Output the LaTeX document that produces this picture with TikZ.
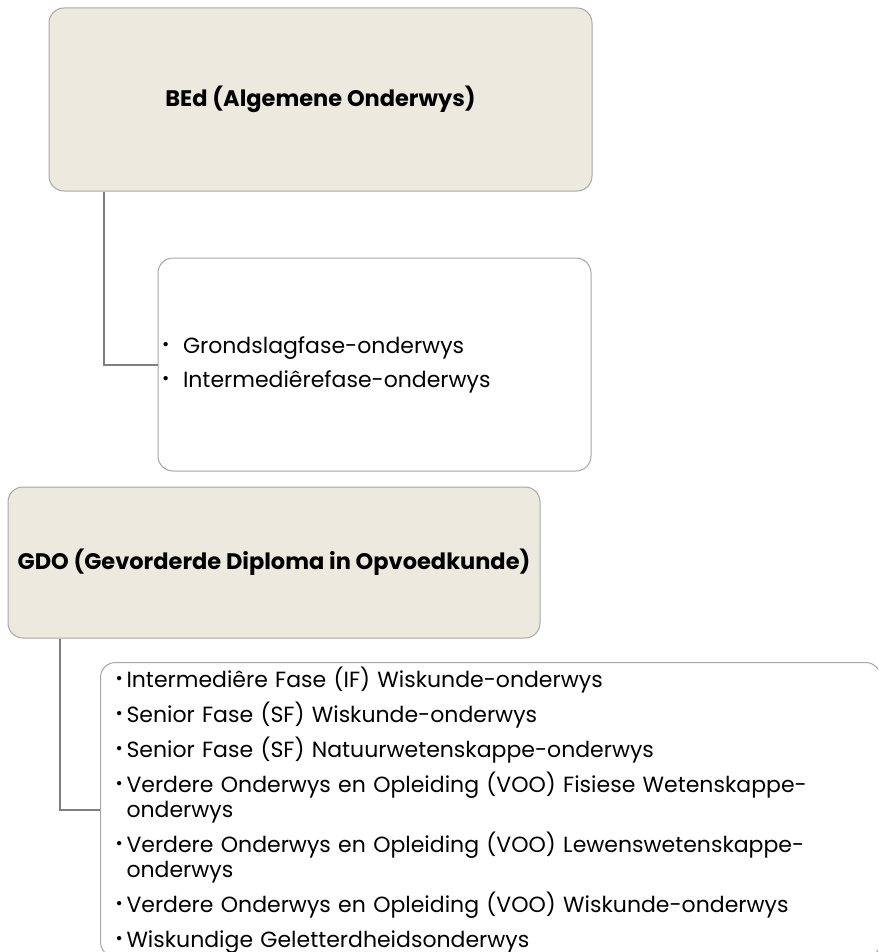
\documentclass[tikz,border=0pt]{standalone}
\usepackage{fontspec}
\setmainfont{Poppins}
\usepackage{xcolor}
\definecolor{boxfill}{HTML}{ECE9DF}
\definecolor{boxline}{HTML}{A6A6A6}
\definecolor{linkgray}{HTML}{7F7F7F}
\newcommand{\pnt}[1]{\makebox[#1][l]{\raisebox{0.25ex}{\scalebox{0.8}{\textbullet}}}}

\begin{document}
\begin{tikzpicture}[x=1pt, y=-1pt,
    headbox/.style={draw=boxline, line width=1pt, fill=boxfill, rounded corners=15pt,
      font=\bfseries\fontsize{22.5}{27}\selectfont},
    listbox/.style={draw=boxline, line width=1pt, fill=white, rounded corners=15pt,
      align=left},
    link/.style={draw=linkgray, line width=2pt}]
      \useasboundingbox (0,0) rectangle (878,952);
      \clip (0,0) rectangle (878,952);
      \node[headbox, minimum width=543pt, minimum height=183pt] (bed) at (320.5,99.5)
        {BEd (Algemene Onderwys)};
      \node[listbox, minimum width=433pt, minimum height=213pt, text width=425pt,
        inner xsep=4pt, font=\fontsize{22}{34}\selectfont] (fases) at (374.5,364.5)
        {\pnt{21pt}Grondslagfase-onderwys\\
         \pnt{21pt}Intermediêrefase-onderwys};
      \node[headbox, minimum width=532pt, minimum height=151pt] (gdo) at (274,562.5)
        {GDO (Gevorderde Diploma in Opvoedkunde)};
      \node[listbox, anchor=north west, text width=750pt, inner xsep=15pt, inner ysep=4pt,
        font=\fontsize{22}{25}\selectfont,
        execute at begin node={\lineskiplimit=-100pt}] (vakke) at (100,662)
        {\pnt{11pt}Intermediêre Fase (IF) Wiskunde-onderwys\\[10pt]
         \pnt{11pt}Senior Fase (SF) Wiskunde-onderwys\\[10pt]
         \pnt{11pt}Senior Fase (SF) Natuurwetenskappe-onderwys\\[10pt]
         \pnt{11pt}Verdere Onderwys en Opleiding (VOO) Fisiese Wetenskappe-\\
         \hspace*{11pt}onderwys\\[10pt]
         \pnt{11pt}Verdere Onderwys en Opleiding (VOO) Lewenswetenskappe-\\
         \hspace*{11pt}onderwys\\[10pt]
         \pnt{11pt}Verdere Onderwys en Opleiding (VOO) Wiskunde-onderwys\\[10pt]
         \pnt{11pt}Wiskundige Geletterdheidsonderwys};
      \draw[link] ([xshift=55pt]bed.south west) |- (fases.west);
      \draw[link] ([xshift=52pt]gdo.south west) |- (vakke.west);
    \end{tikzpicture}
\end{document}
